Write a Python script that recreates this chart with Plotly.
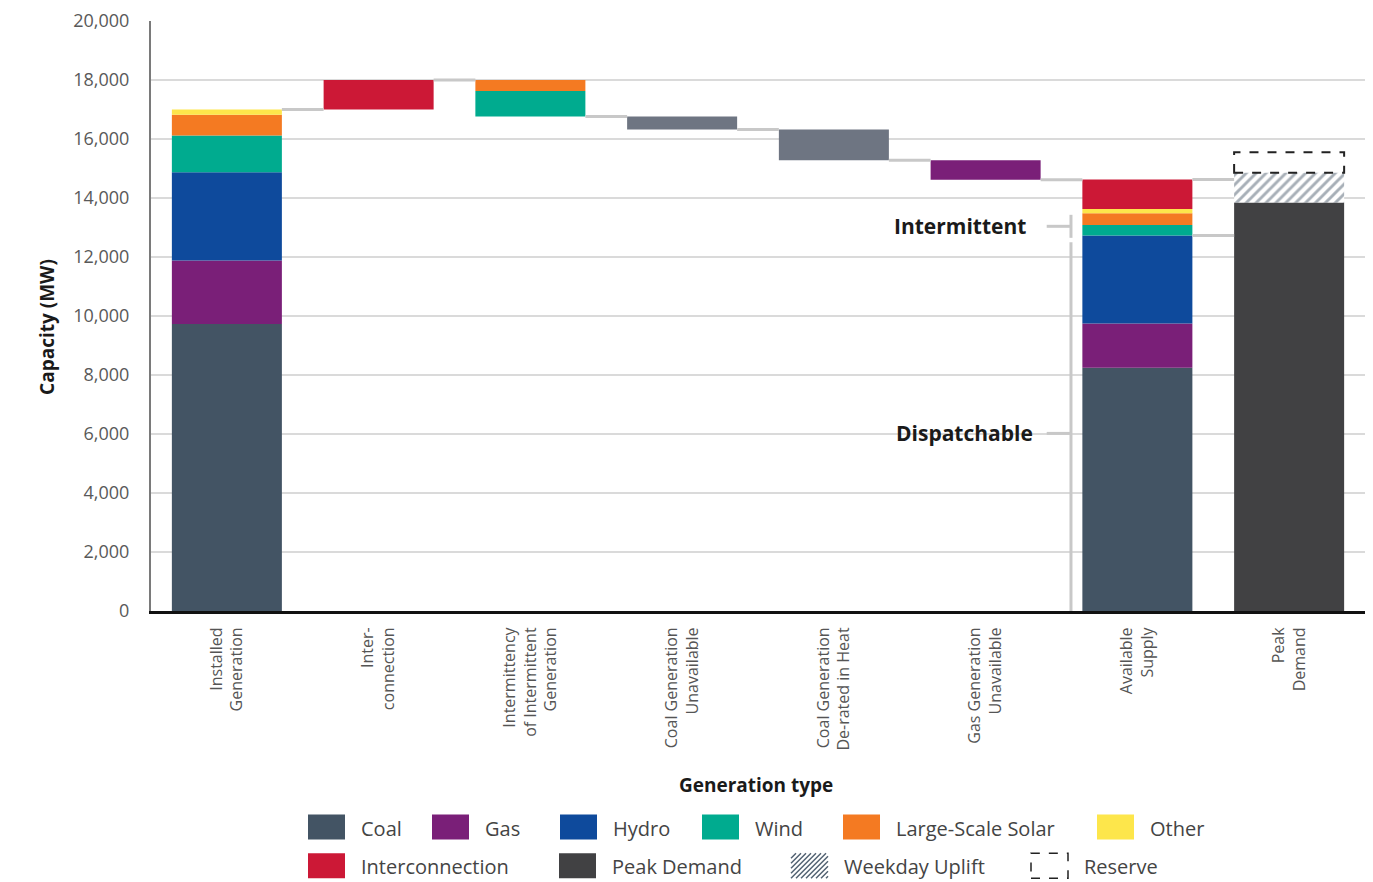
import plotly.graph_objects as go

# ---- data (MW) ----
categories = [
    "Installed<br>Generation",
    "Inter-<br>connection",
    "Intermittency<br>of Intermittent<br>Generation",
    "Coal Generation<br>Unavailable",
    "Coal Generation<br>De-rated in Heat",
    "Gas Generation<br>Unavailable",
    "Available<br>Supply",
    "Peak<br>Demand",
]
fuels = ["Coal", "Gas", "Hydro", "Wind", "Large-Scale Solar", "Other"]
installed_mw = [9730, 2150, 2990, 1250, 700, 180]
interconnection_mw = 1000
intermittency_wind_mw = 865
intermittency_solar_mw = 370
coal_unavailable_mw = 440
coal_derated_mw = 1045
gas_unavailable_mw = 660
available_mw = [8250, 1500, 2975, 360, 400, 145]
available_interconnection_mw = 1000
peak_demand_mw = 13850
weekday_uplift_mw = 1010
reserve_mw = 690
y_ticks = list(range(0, 20001, 2000))

# ---- styling ----
colors = {
    "Coal": "#435464",
    "Gas": "#7a1f78",
    "Hydro": "#0e4a9c",
    "Wind": "#00ab8f",
    "Large-Scale Solar": "#f47a22",
    "Other": "#fde64b",
    "Interconnection": "#cc1836",
    "Outage": "#6e7582",
    "Peak Demand": "#414143",
    "Uplift": "#4f5f70",
}
FONT = "Open Sans"
W = 0.725          # bar width in category units
CONN = "#c8c8c8"   # connector / bracket grey

# ---- running totals through the waterfall ----
def cumbase(vals):
    out, acc = [], 0
    for v in vals:
        out.append(acc)
        acc += v
    return out, acc

inst_base, t0 = cumbase(installed_mw)
t1 = t0 + interconnection_mw
t2 = t1 - intermittency_solar_mw - intermittency_wind_mw
t3 = t2 - coal_unavailable_mw
t4 = t3 - coal_derated_mw
t5 = t4 - gas_unavailable_mw
avail_base, avail_gen = cumbase(available_mw)
t6 = avail_gen + available_interconnection_mw
dispatchable_top = sum(available_mw[:3])

fig = go.Figure()

def bar(xs, ys, bases, color, **kw):
    fig.add_trace(go.Bar(
        x=xs, y=ys, base=bases, width=[W] * len(xs),
        marker=dict(color=color, line=dict(width=0)),
        showlegend=False, hoverinfo="skip", **kw))

# fuel stacks for installed and available supply, plus intermittency / outage steps
for i, f in enumerate(fuels):
    xs = [0, 6]
    ys = [installed_mw[i], available_mw[i]]
    bs = [inst_base[i], avail_base[i]]
    if f == "Wind":
        xs.append(2); ys.append(intermittency_wind_mw); bs.append(t2)
    if f == "Large-Scale Solar":
        xs.append(2); ys.append(intermittency_solar_mw); bs.append(t2 + intermittency_wind_mw)
    if f == "Gas":
        xs.append(5); ys.append(gas_unavailable_mw); bs.append(t5)
    bar(xs, ys, bs, colors[f])

bar([1, 6], [interconnection_mw, available_interconnection_mw], [t0, avail_gen],
    colors["Interconnection"])
bar([3, 4], [coal_unavailable_mw, coal_derated_mw], [t3, t4], colors["Outage"])
bar([7], [peak_demand_mw], [0], colors["Peak Demand"])
fig.add_trace(go.Bar(
    x=[7], y=[weekday_uplift_mw], base=[peak_demand_mw], width=[W],
    marker=dict(color="white", line=dict(width=0),
                pattern=dict(shape="/", fgcolor=colors["Uplift"], bgcolor="white",
                             size=7, solidity=0.42)),
    showlegend=False, hoverinfo="skip"))

# reserve: dashed outline above the weekday uplift
fig.add_shape(type="rect", xref="x", yref="y",
              x0=7 - W / 2, x1=7 + W / 2,
              y0=peak_demand_mw + weekday_uplift_mw,
              y1=peak_demand_mw + weekday_uplift_mw + reserve_mw,
              line=dict(color="#222222", width=2, dash="dash"), fillcolor="rgba(0,0,0,0)")

# connectors between consecutive bars
levels = [t0, t1, t2, t3, t4, t5, t6]
cx, cy = [], []
for i, lv in enumerate(levels):
    cx += [i + W / 2, i + 1 - W / 2, None]
    cy += [lv, lv, None]
cx += [6 + W / 2, 7 - W / 2, None]
cy += [dispatchable_top, dispatchable_top, None]
fig.add_trace(go.Scatter(x=cx, y=cy, mode="lines", line=dict(color=CONN, width=3),
                         showlegend=False, hoverinfo="skip"))

# brackets labelling the available-supply stack
bx = 6 - W / 2 - 0.075
tick_x0 = bx - 0.16
intermittent_span = (12650, 13430)
dispatchable_span = (0, 12500)
intermittent_label_y = 13040
dispatchable_label_y = 6020
fig.add_trace(go.Scatter(
    x=[bx, bx, None, bx, bx, None, tick_x0, bx, None, tick_x0, bx],
    y=[intermittent_span[0], intermittent_span[1], None,
       dispatchable_span[0], dispatchable_span[1], None,
       intermittent_label_y, intermittent_label_y, None,
       dispatchable_label_y, dispatchable_label_y],
    mode="lines", line=dict(color=CONN, width=3),
    showlegend=False, hoverinfo="skip"))
fig.add_annotation(x=tick_x0 - 0.12, y=intermittent_label_y, xref="x", yref="y",
                   text="<b>Intermittent</b>", showarrow=False, xanchor="right",
                   yanchor="middle", font=dict(family=FONT, size=21, color="#1a1a1a"))
fig.add_annotation(x=tick_x0 - 0.075, y=dispatchable_label_y, xref="x", yref="y",
                   text="<b>Dispatchable</b>", showarrow=False, xanchor="right",
                   yanchor="middle", font=dict(family=FONT, size=21, color="#1a1a1a"))

# ---- layout ----
ML, MR, MT, MB = 151, 8, 17, 271
FW, FH = 1373, 882
PW, PH = FW - ML - MR, FH - MT - MB

def px(x):
    return (x - ML) / PW

def py(y):
    return (FH - MB - y) / PH

fig.update_layout(
    width=FW, height=FH,
    margin=dict(l=ML, r=MR, t=MT, b=MB),
    paper_bgcolor="white", plot_bgcolor="white",
    barmode="overlay",
    font=dict(family=FONT),
    xaxis=dict(
        range=[-0.5, 7.5], tickmode="array", tickvals=list(range(len(categories))),
        ticktext=categories, tickangle=-90, ticks="", ticklabelstandoff=7,
        tickfont=dict(family=FONT, size=16, color="#555555"),
        showgrid=False, zeroline=False, showline=True, linecolor="#111111",
        linewidth=3, fixedrange=True),
    yaxis=dict(
        range=[0, 20000], tickmode="array", tickvals=y_ticks, tickformat=",",
        ticks="", ticklabelstandoff=16,
        tickfont=dict(family=FONT, size=18, color="#595959"),
        showgrid=True, gridcolor="#dadada", gridwidth=1.5, zeroline=False,
        showline=True, linecolor="#7a7a7a", linewidth=2, fixedrange=True),
)

# axis titles
fig.add_annotation(x=px(47), y=py(325), xref="paper", yref="paper",
                   text="<b>Capacity (MW)</b>", textangle=-90, showarrow=False,
                   xanchor="center", yanchor="middle",
                   font=dict(family=FONT, size=19, color="#1a1a1a"))
fig.add_annotation(x=px(756), y=py(786), xref="paper", yref="paper",
                   text="<b>Generation type</b>", showarrow=False,
                   xanchor="center", yanchor="middle",
                   font=dict(family=FONT, size=19, color="#1a1a1a"))

# ---- custom legend ----
SW, SH = 37, 25
legend_items = [
    ("Coal", colors["Coal"], 308, 816, "solid"),
    ("Gas", colors["Gas"], 432, 816, "solid"),
    ("Hydro", colors["Hydro"], 560, 816, "solid"),
    ("Wind", colors["Wind"], 702, 816, "solid"),
    ("Large-Scale Solar", colors["Large-Scale Solar"], 843, 816, "solid"),
    ("Other", colors["Other"], 1097, 816, "solid"),
    ("Interconnection", colors["Interconnection"], 308, 855, "solid"),
    ("Peak Demand", colors["Peak Demand"], 559, 855, "solid"),
    ("Weekday Uplift", colors["Uplift"], 791, 855, "hatch"),
    ("Reserve", "#222222", 1031, 855, "dash"),
]
for name, col, lx, ly, kind in legend_items:
    if kind == "solid":
        fig.add_shape(type="rect", xref="paper", yref="paper",
                      x0=px(lx), x1=px(lx + SW), y0=py(ly + SH), y1=py(ly),
                      line=dict(width=0), fillcolor=col)
    elif kind == "dash":
        fig.add_shape(type="rect", xref="paper", yref="paper",
                      x0=px(lx), x1=px(lx + SW), y0=py(ly + SH), y1=py(ly),
                      line=dict(color=col, width=1.5, dash="dash"),
                      fillcolor="rgba(0,0,0,0)")
    else:
        # diagonal hatching clipped to the swatch box
        step = 5
        c = -SH
        while c < SW:
            u0, u1 = max(0, c), min(SW, SH + c)
            if u1 > u0:
                fig.add_shape(type="line", xref="paper", yref="paper",
                              x0=px(lx + u0), y0=py(ly + SH - (u0 - c)),
                              x1=px(lx + u1), y1=py(ly + SH - (u1 - c)),
                              line=dict(color=col, width=1.4))
            c += step
    fig.add_annotation(x=px(lx + SW + 14), y=py(ly + SH / 2 + 1), xref="paper", yref="paper",
                       text=name, showarrow=False, xanchor="left", yanchor="middle",
                       font=dict(family=FONT, size=20, color="#444444"))

fig.write_html("out.html")
